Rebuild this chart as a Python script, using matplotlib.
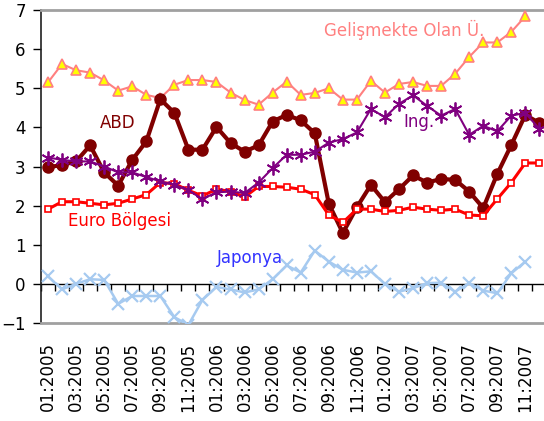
import numpy as np
import matplotlib.pyplot as plt

# aylar: 01:2005 - 12:2007
months = [f"{m:02d}:{y}" for y in (2005, 2006, 2007) for m in range(1, 13)]

gelismekte = [5.15, 5.62, 5.46, 5.40, 5.20, 4.94, 5.05, 4.83, 4.75, 5.09, 5.21, 5.21,
              5.16, 4.89, 4.70, 4.58, 4.89, 5.17, 4.83, 4.88, 5.00, 4.71, 4.71, 5.19,
              4.89, 5.11, 5.16, 5.06, 5.06, 5.37, 5.80, 6.17, 6.17, 6.44, 6.84, np.nan]
abd = [2.98, 3.04, 3.13, 3.54, 2.85, 2.51, 3.17, 3.64, 4.72, 4.37, 3.43, 3.43,
       4.01, 3.60, 3.38, 3.54, 4.15, 4.32, 4.18, 3.85, 2.05, 1.30, 1.96, 2.53,
       2.09, 2.42, 2.77, 2.59, 2.68, 2.66, 2.36, 1.94, 2.81, 3.55, 4.32, 4.11]
euro = [1.91, 2.10, 2.10, 2.06, 2.02, 2.06, 2.17, 2.28, 2.59, 2.56, 2.39, 2.25,
        2.42, 2.36, 2.22, 2.49, 2.49, 2.47, 2.42, 2.28, 1.76, 1.57, 1.91, 1.91,
        1.85, 1.88, 1.96, 1.91, 1.88, 1.91, 1.76, 1.74, 2.17, 2.59, 3.09, 3.09]
ing = [3.23, 3.17, 3.13, 3.13, 3.00, 2.85, 2.85, 2.73, 2.62, 2.53, 2.39, 2.17,
       2.34, 2.36, 2.32, 2.59, 2.96, 3.30, 3.30, 3.38, 3.61, 3.70, 3.87, 4.47,
       4.26, 4.60, 4.82, 4.55, 4.30, 4.47, 3.81, 4.04, 3.90, 4.30, 4.37, 3.96]
japonya = [0.19, -0.14, 0.00, 0.12, 0.10, -0.51, -0.31, -0.31, -0.31, -0.85, -1.05, -0.41,
           -0.08, -0.14, -0.22, -0.14, 0.12, 0.47, 0.29, 0.85, 0.57, 0.36, 0.29, 0.32,
           0.00, -0.20, -0.11, 0.02, 0.03, -0.20, 0.02, -0.17, -0.24, 0.27, 0.57, np.nan]

x = np.arange(len(months))

fig = plt.figure(figsize=(5.44, 4.21), dpi=100)
ax = fig.add_axes([41 / 544, 98 / 421, 505.4 / 544, 313 / 421])

ax.plot(x, gelismekte, color='#FF8080', lw=1.5, marker='^', ms=6.5,
        mfc='#FFFF00', mec='#FF8080', mew=1.2, zorder=3)
ax.plot(x, abd, color='#800000', lw=3, marker='o', ms=8, solid_joinstyle='round', zorder=4)
ax.plot(x, euro, color='#FF0000', lw=2.2, marker='s', ms=5,
        mfc='white', mec='#FF0000', mew=1.2, zorder=5)
ax.plot(x, ing, color='#800080', lw=1.5, marker=(6, 2, 0), ms=10, mew=1.3, zorder=6)
ax.plot(x, japonya, color='#A6CAF0', lw=1.8, marker='x', ms=9, mew=1.6, zorder=7)

# seri etiketleri
ax.text(25.4, 6.5, 'Gelişmekte Olan Ü.', color='#FF8080', fontsize=12, ha='center', va='center')
ax.text(4.95, 4.12, 'ABD', color='#800000', fontsize=12, ha='center', va='center')
ax.text(26.4, 4.14, 'Ing.', color='#800080', fontsize=12, ha='center', va='center')
ax.text(5.1, 1.61, 'Euro Bölgesi', color='#FF0000', fontsize=12, ha='center', va='center')
ax.text(14.4, 0.66, 'Japonya', color='#3333FF', fontsize=12, ha='center', va='center')

ax.set_xlim(-0.5, 35.5)
ax.set_ylim(-1, 7)
ax.set_yticks(range(-1, 8))
ax.tick_params(axis='y', direction='out', length=6, width=1, labelsize=12, pad=5)

ax.set_xticks(x[::2])
ax.set_xticklabels(months[::2], rotation=90, fontsize=12)
ax.tick_params(axis='x', length=0, pad=14)

for s in ('top', 'bottom'):
    ax.spines[s].set_color('#A0A0A0')
    ax.spines[s].set_linewidth(2)
ax.spines['right'].set_visible(False)
ax.spines['left'].set_color('#202020')
ax.spines['left'].set_linewidth(1.2)

# sıfır çizgisi ve ay işaretleri
zero = ax.secondary_xaxis(1 / 8)
zero.set_xticks(np.arange(-0.5, 36, 1))
zero.tick_params(axis='x', direction='out', length=5, width=1, labelbottom=False, labeltop=False)
zero.spines['bottom'].set_color('black')
zero.spines['bottom'].set_linewidth(1)

fig.savefig('out.png', dpi=100)
